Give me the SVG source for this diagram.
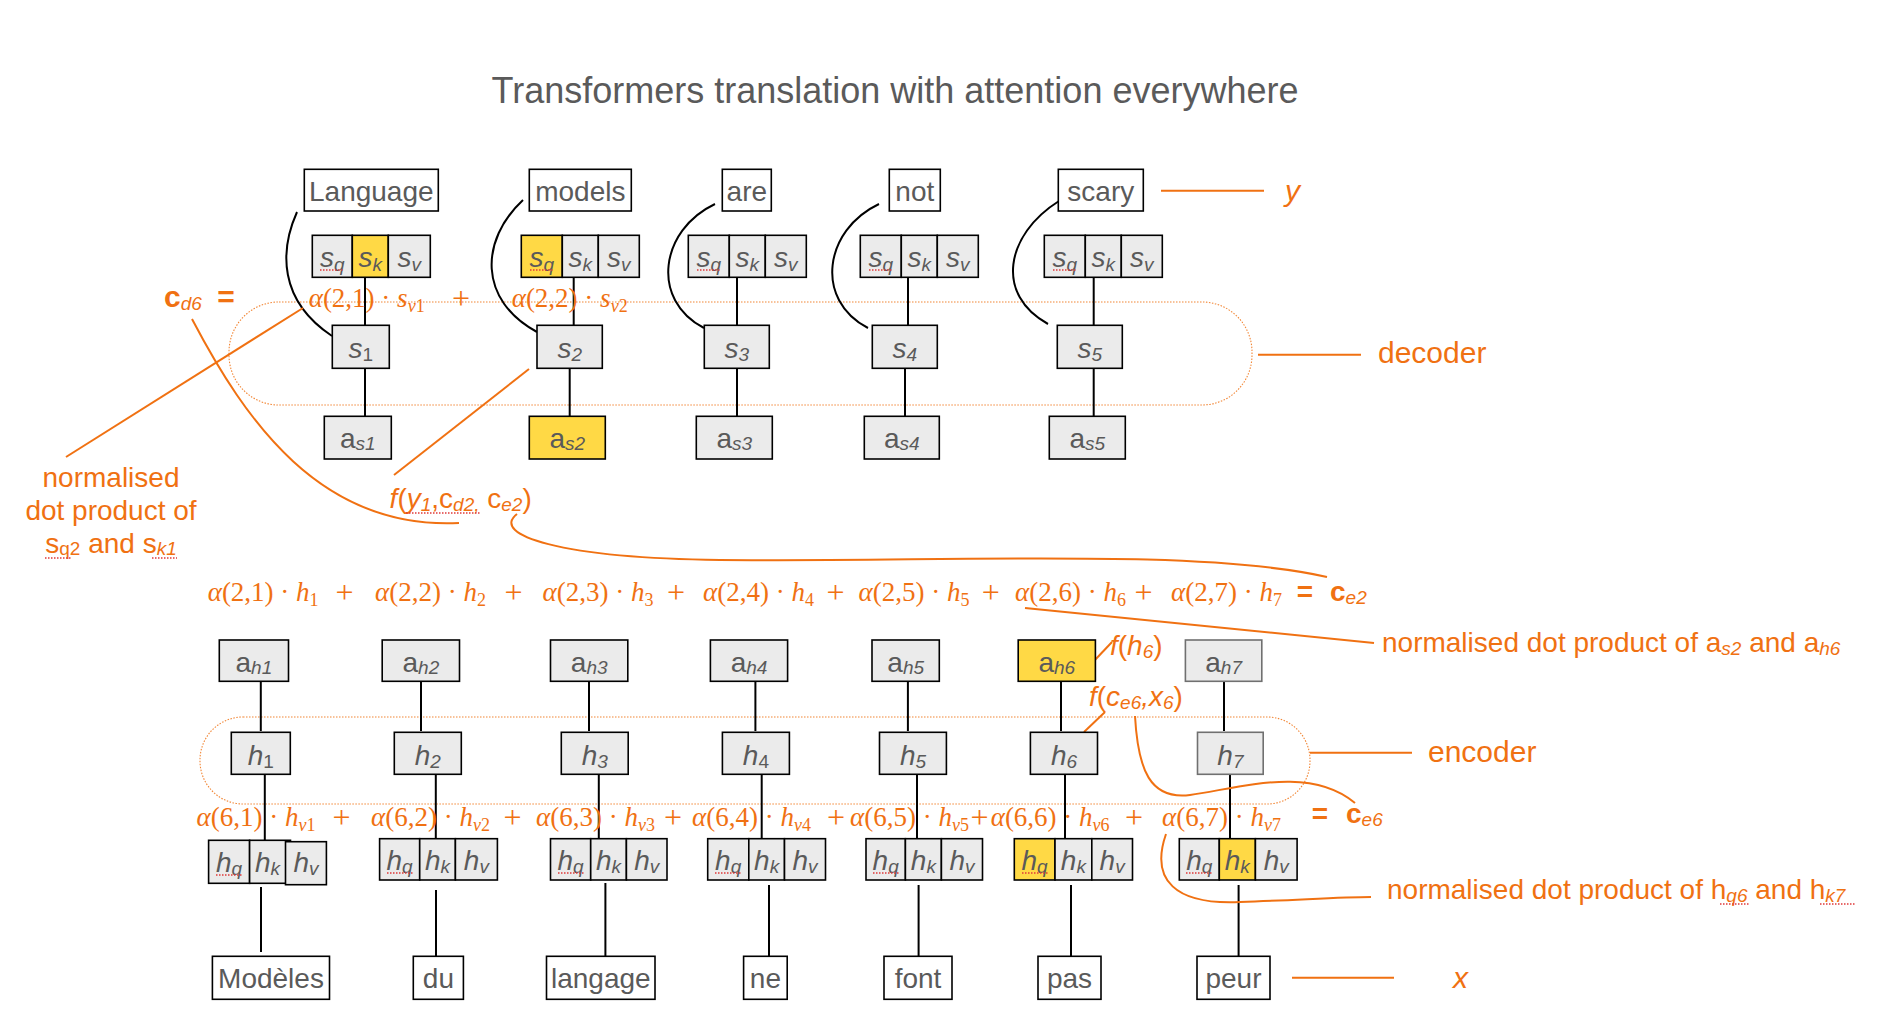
<svg xmlns="http://www.w3.org/2000/svg" width="1902" height="1036" viewBox="0 0 1902 1036">
<style>
.bx{fill:#EBEBEB;stroke:#000;stroke-width:1.6}
.yb{fill:#FFD945;stroke:#000;stroke-width:1.6}
.gb{fill:#EBEBEB;stroke:#707070;stroke-width:1.6}
.wb{fill:#fff;stroke:#000;stroke-width:1.6}
.nt{font-family:"Liberation Sans",Arial,sans-serif;font-size:28px;fill:#5a5a5a;text-anchor:middle}
.i{font-style:italic}
.sb{font-size:19px}
.nw{font-weight:normal}
.bl{stroke:#000;stroke-width:2;fill:none}
.ol{stroke:#F07112;stroke-width:2;fill:none}
.dt{stroke:#F07112;stroke-width:1.1;stroke-dasharray:1.5 1.5;fill:none;opacity:.85}
.sp{stroke:#e03a3a;stroke-width:1.3;stroke-dasharray:1.5 1.5;fill:none}
.lab{font-family:"Liberation Sans",Arial,sans-serif;font-size:28px;fill:#F07112}
.big{font-size:30px}
.bd{font-weight:bold}
.eq{font-family:"Liberation Serif","Times New Roman",serif;font-size:27px;fill:#F07112}
.pl{font-family:"Liberation Serif","Times New Roman",serif;font-size:32px;fill:#F07112;text-anchor:middle}
.es{font-size:18px}
.ttl{font-family:"Liberation Sans",Arial,sans-serif;font-size:36px;fill:#5a5a5a;text-anchor:middle}
</style>

<text class="ttl" x="895" y="103">Transformers translation with attention everywhere</text>

<!-- grouping outlines -->
<g id="decoder-outline"><rect class="dt" x="229" y="302" width="1023" height="103" rx="50" ry="50"/></g>
<g id="encoder-outline"><rect class="dt" x="200" y="717" width="1110" height="87" rx="43" ry="43"/></g>

<!-- connectors -->
<g id="connectors">
  <path class="bl" d="M297,212 C280,250 278,300 332,336"/>
  <path class="bl" d="M523,200 C480,240 478,300 537,332"/>
  <path class="bl" d="M715,204 C660,230 650,300 704,328"/>
  <path class="bl" d="M879,204 C824,230 814,300 868,328"/>
  <path class="bl" d="M1059,201 C1005,235 995,295 1048,324"/>
  <line class="bl" x1="365" y1="277" x2="365" y2="325"/>
  <line class="bl" x1="573.7" y1="277" x2="573.7" y2="325"/>
  <line class="bl" x1="737" y1="277" x2="737" y2="325"/>
  <line class="bl" x1="908" y1="277" x2="908" y2="325"/>
  <line class="bl" x1="1093.7" y1="277" x2="1093.7" y2="325"/>
  <line class="bl" x1="365" y1="369" x2="365" y2="416"/>
  <line class="bl" x1="569.7" y1="369" x2="569.7" y2="416"/>
  <line class="bl" x1="737" y1="369" x2="737" y2="416"/>
  <line class="bl" x1="905" y1="369" x2="905" y2="416"/>
  <line class="bl" x1="1093.7" y1="369" x2="1093.7" y2="416"/>
  <line class="bl" x1="260.8" y1="682" x2="260.8" y2="731"/>
  <line class="bl" x1="421" y1="682" x2="421" y2="731"/>
  <line class="bl" x1="589" y1="682" x2="589" y2="731"/>
  <line class="bl" x1="755.4" y1="682" x2="755.4" y2="731"/>
  <line class="bl" x1="907.9" y1="682" x2="907.9" y2="731"/>
  <line class="bl" x1="1061" y1="682" x2="1061" y2="731"/>
  <line class="bl" x1="1224" y1="682" x2="1224" y2="731"/>
  <line class="bl" x1="264.8" y1="773" x2="264.8" y2="840"/>
  <line class="bl" x1="435.8" y1="773" x2="435.8" y2="839"/>
  <line class="bl" x1="598.8" y1="773" x2="598.8" y2="839"/>
  <line class="bl" x1="761.7" y1="773" x2="761.7" y2="839"/>
  <line class="bl" x1="917" y1="773" x2="917" y2="839"/>
  <line class="bl" x1="1065" y1="773" x2="1065" y2="839"/>
  <line class="bl" x1="1230" y1="773" x2="1230" y2="839"/>
  <line class="bl" x1="261" y1="887" x2="261" y2="952"/>
  <line class="bl" x1="436" y1="890" x2="436" y2="956"/>
  <line class="bl" x1="605.4" y1="883" x2="605.4" y2="956"/>
  <line class="bl" x1="769" y1="885" x2="769" y2="956"/>
  <line class="bl" x1="918.6" y1="885" x2="918.6" y2="956"/>
  <line class="bl" x1="1071" y1="885" x2="1071" y2="956"/>
  <line class="bl" x1="1238.6" y1="885" x2="1238.6" y2="956"/>
  <line class="ol" x1="1161" y1="190.7" x2="1264" y2="190.7"/>
  <line class="ol" x1="1258" y1="354.7" x2="1361" y2="354.7"/>
  <line class="ol" x1="1310" y1="752.7" x2="1412" y2="752.7"/>
  <line class="ol" x1="1292" y1="977.7" x2="1394" y2="977.7"/>
  <line class="ol" x1="303" y1="308" x2="66" y2="457"/>
  <path class="ol" d="M192,319 C245,420 320,530 459,523"/>
  <line class="ol" x1="529" y1="369" x2="394" y2="475"/>
  <path class="ol" d="M517,514 C490,535 560,558 720,560 C950,562 1200,548 1327,577"/>
  <line class="ol" x1="1025" y1="608" x2="1374" y2="643"/>
  <line class="ol" x1="1094" y1="661" x2="1112" y2="642"/>
  <line class="ol" x1="1105" y1="712" x2="1084" y2="732"/>
  <path class="ol" d="M1135,716 C1138,770 1150,800 1190,795 C1240,788 1310,765 1355,803"/>
  <path class="ol" d="M1166,834 C1150,880 1175,905 1240,902 C1300,900 1340,897 1371,897"/>
</g>

<!-- top words (y) -->
<g id="y-Language"><rect class="wb" x="304.3" y="169.3" width="134" height="41.7"/><text class="nt" x="371.3" y="201">Language</text></g>
<g id="y-models"><rect class="wb" x="529.3" y="169.3" width="102" height="41.7"/><text class="nt" x="580.3" y="201">models</text></g>
<g id="y-are"><rect class="wb" x="722.3" y="169.3" width="49" height="41.7"/><text class="nt" x="746.8" y="201">are</text></g>
<g id="y-not"><rect class="wb" x="889.3" y="169.3" width="51" height="41.7"/><text class="nt" x="914.8" y="201">not</text></g>
<g id="y-scary"><rect class="wb" x="1058.3" y="169.3" width="85" height="41.7"/><text class="nt" x="1100.8" y="201">scary</text></g>

<!-- s tuples -->
<g id="stuple1">
  <rect class="bx" x="312.3" y="235.3" width="40" height="42"/><rect class="yb" x="352.3" y="235.3" width="36" height="42"/><rect class="bx" x="388.3" y="235.3" width="42" height="42"/>
  <text class="nt" x="332.3" y="267"><tspan class="i">s</tspan><tspan class="sb i" dy="4">q</tspan></text>
  <text class="nt" x="370.3" y="267"><tspan class="i">s</tspan><tspan class="sb i" dy="4">k</tspan></text>
  <text class="nt" x="409.3" y="267"><tspan class="i">s</tspan><tspan class="sb i" dy="4">v</tspan></text>
  <line class="sp" x1="320" y1="270" x2="344" y2="270"/>
</g>
<g id="stuple2">
  <rect class="yb" x="521.3" y="235.3" width="41" height="42"/><rect class="bx" x="562.3" y="235.3" width="36" height="42"/><rect class="bx" x="598.3" y="235.3" width="41" height="42"/>
  <text class="nt" x="541.8" y="267"><tspan class="i">s</tspan><tspan class="sb i" dy="4">q</tspan></text>
  <text class="nt" x="580.3" y="267"><tspan class="i">s</tspan><tspan class="sb i" dy="4">k</tspan></text>
  <text class="nt" x="618.8" y="267"><tspan class="i">s</tspan><tspan class="sb i" dy="4">v</tspan></text>
  <line class="sp" x1="530" y1="270" x2="554" y2="270"/>
</g>
<g id="stuple3">
  <rect class="bx" x="688.3" y="235.3" width="41" height="42"/><rect class="bx" x="729.3" y="235.3" width="36" height="42"/><rect class="bx" x="765.3" y="235.3" width="41" height="42"/>
  <text class="nt" x="708.8" y="267"><tspan class="i">s</tspan><tspan class="sb i" dy="4">q</tspan></text>
  <text class="nt" x="747.3" y="267"><tspan class="i">s</tspan><tspan class="sb i" dy="4">k</tspan></text>
  <text class="nt" x="785.8" y="267"><tspan class="i">s</tspan><tspan class="sb i" dy="4">v</tspan></text>
  <line class="sp" x1="697" y1="270" x2="721" y2="270"/>
</g>
<g id="stuple4">
  <rect class="bx" x="860.3" y="235.3" width="41" height="42"/><rect class="bx" x="901.3" y="235.3" width="36" height="42"/><rect class="bx" x="937.3" y="235.3" width="41" height="42"/>
  <text class="nt" x="880.8" y="267"><tspan class="i">s</tspan><tspan class="sb i" dy="4">q</tspan></text>
  <text class="nt" x="919.3" y="267"><tspan class="i">s</tspan><tspan class="sb i" dy="4">k</tspan></text>
  <text class="nt" x="957.8" y="267"><tspan class="i">s</tspan><tspan class="sb i" dy="4">v</tspan></text>
  <line class="sp" x1="869" y1="270" x2="893" y2="270"/>
</g>
<g id="stuple5">
  <rect class="bx" x="1044.3" y="235.3" width="41" height="42"/><rect class="bx" x="1085.3" y="235.3" width="36" height="42"/><rect class="bx" x="1121.3" y="235.3" width="41" height="42"/>
  <text class="nt" x="1064.8" y="267"><tspan class="i">s</tspan><tspan class="sb i" dy="4">q</tspan></text>
  <text class="nt" x="1103.3" y="267"><tspan class="i">s</tspan><tspan class="sb i" dy="4">k</tspan></text>
  <text class="nt" x="1141.8" y="267"><tspan class="i">s</tspan><tspan class="sb i" dy="4">v</tspan></text>
  <line class="sp" x1="1053" y1="270" x2="1077" y2="270"/>
</g>

<!-- s nodes -->
<g id="s1"><rect class="bx" x="332.3" y="325.3" width="57" height="43"/><text class="nt" x="360.8" y="358"><tspan class="i">s</tspan><tspan class="sb" dy="3">1</tspan></text></g>
<g id="s2"><rect class="bx" x="537" y="325.3" width="65.3" height="43"/><text class="nt" x="569.7" y="358"><tspan class="i">s</tspan><tspan class="sb i" dy="3">2</tspan></text></g>
<g id="s3"><rect class="bx" x="704.3" y="325.3" width="65" height="43"/><text class="nt" x="736.8" y="358"><tspan class="i">s</tspan><tspan class="sb i" dy="3">3</tspan></text></g>
<g id="s4"><rect class="bx" x="872.3" y="325.3" width="65" height="43"/><text class="nt" x="904.8" y="358"><tspan class="i">s</tspan><tspan class="sb i" dy="3">4</tspan></text></g>
<g id="s5"><rect class="bx" x="1057.3" y="325.3" width="65" height="43"/><text class="nt" x="1089.8" y="358"><tspan class="i">s</tspan><tspan class="sb i" dy="3">5</tspan></text></g>

<!-- a_s nodes -->
<g id="as1"><rect class="bx" x="324.3" y="416.3" width="67" height="42.7"/><text class="nt" x="357.8" y="448">a<tspan class="sb i" dy="2">s1</tspan></text></g>
<g id="as2"><rect class="yb" x="529.3" y="416.3" width="76" height="42.7"/><text class="nt" x="567.3" y="448">a<tspan class="sb i" dy="2">s2</tspan></text></g>
<g id="as3"><rect class="bx" x="696.3" y="416.3" width="76" height="42.7"/><text class="nt" x="734.3" y="448">a<tspan class="sb i" dy="2">s3</tspan></text></g>
<g id="as4"><rect class="bx" x="864.3" y="416.3" width="75" height="42.7"/><text class="nt" x="901.8" y="448">a<tspan class="sb i" dy="2">s4</tspan></text></g>
<g id="as5"><rect class="bx" x="1049.3" y="416.3" width="76" height="42.7"/><text class="nt" x="1087.3" y="448">a<tspan class="sb i" dy="2">s5</tspan></text></g>

<!-- a_h nodes -->
<g id="ah1"><rect class="bx" x="219.3" y="640" width="69.2" height="41.3"/><text class="nt" x="253.9" y="672">a<tspan class="sb i" dy="2">h1</tspan></text></g>
<g id="ah2"><rect class="bx" x="382.2" y="640" width="77.3" height="41.3"/><text class="nt" x="420.9" y="672">a<tspan class="sb i" dy="2">h2</tspan></text></g>
<g id="ah3"><rect class="bx" x="550.5" y="640" width="77.3" height="41.3"/><text class="nt" x="589.2" y="672">a<tspan class="sb i" dy="2">h3</tspan></text></g>
<g id="ah4"><rect class="bx" x="710.4" y="640" width="77.2" height="41.3"/><text class="nt" x="749" y="672">a<tspan class="sb i" dy="2">h4</tspan></text></g>
<g id="ah5"><rect class="bx" x="872" y="640" width="67.3" height="41.3"/><text class="nt" x="905.7" y="672">a<tspan class="sb i" dy="2">h5</tspan></text></g>
<g id="ah6"><rect class="yb" x="1018.2" y="640" width="77.2" height="41.3"/><text class="nt" x="1056.8" y="672">a<tspan class="sb i" dy="2">h6</tspan></text></g>
<g id="ah7"><rect class="gb" x="1185.4" y="640" width="76.4" height="41.3"/><text class="nt" x="1223.6" y="672">a<tspan class="sb i" dy="2">h7</tspan></text></g>

<!-- h nodes -->
<g id="h1"><rect class="bx" x="231.3" y="732.3" width="59" height="42"/><text class="nt" x="260.8" y="765"><tspan class="i">h</tspan><tspan class="sb" dy="3">1</tspan></text></g>
<g id="h2"><rect class="bx" x="394.3" y="732.3" width="67" height="42"/><text class="nt" x="427.8" y="765"><tspan class="i">h</tspan><tspan class="sb i" dy="3">2</tspan></text></g>
<g id="h3"><rect class="bx" x="561.3" y="732.3" width="66.9" height="42"/><text class="nt" x="594.8" y="765"><tspan class="i">h</tspan><tspan class="sb i" dy="3">3</tspan></text></g>
<g id="h4"><rect class="bx" x="722.4" y="732.3" width="67" height="42"/><text class="nt" x="755.9" y="765"><tspan class="i">h</tspan><tspan class="sb" dy="3">4</tspan></text></g>
<g id="h5"><rect class="bx" x="879.5" y="732.3" width="66.9" height="42"/><text class="nt" x="913" y="765"><tspan class="i">h</tspan><tspan class="sb i" dy="3">5</tspan></text></g>
<g id="h6"><rect class="bx" x="1030.4" y="732.3" width="67.1" height="42"/><text class="nt" x="1064" y="765"><tspan class="i">h</tspan><tspan class="sb i" dy="3">6</tspan></text></g>
<g id="h7"><rect class="gb" x="1197.5" y="732.3" width="65.7" height="42"/><text class="nt" x="1230.4" y="765"><tspan class="i">h</tspan><tspan class="sb i" dy="3">7</tspan></text></g>

<!-- h tuples -->
<g id="htuple1">
  <rect class="bx" x="208.6" y="840.3" width="41" height="43"/><rect class="bx" x="249.6" y="840.3" width="40.9" height="43"/><rect class="bx" x="285.5" y="841.7" width="40.9" height="43"/>
  <text class="nt" x="229.1" y="871.5"><tspan class="i">h</tspan><tspan class="sb i" dy="3">q</tspan></text>
  <text class="nt" x="267.5" y="871.5"><tspan class="i">h</tspan><tspan class="sb i" dy="3">k</tspan></text>
  <text class="nt" x="306" y="871.5"><tspan class="i">h</tspan><tspan class="sb i" dy="3">v</tspan></text>
  <line class="sp" x1="216" y1="875" x2="242" y2="875"/>
</g>
<g id="htuple2">
  <rect class="bx" x="379.6" y="838.7" width="40.1" height="41.3"/><rect class="bx" x="419.7" y="838.7" width="35.7" height="41.3"/><rect class="bx" x="455.4" y="838.7" width="42" height="41.3"/>
  <text class="nt" x="399.6" y="870"><tspan class="i">h</tspan><tspan class="sb i" dy="3">q</tspan></text>
  <text class="nt" x="437.5" y="870"><tspan class="i">h</tspan><tspan class="sb i" dy="3">k</tspan></text>
  <text class="nt" x="476.4" y="870"><tspan class="i">h</tspan><tspan class="sb i" dy="3">v</tspan></text>
  <line class="sp" x1="387" y1="873" x2="413" y2="873"/>
</g>
<g id="htuple3">
  <rect class="bx" x="550.5" y="838.7" width="40.2" height="41.3"/><rect class="bx" x="590.7" y="838.7" width="35.7" height="41.3"/><rect class="bx" x="626.4" y="838.7" width="40.6" height="41.3"/>
  <text class="nt" x="570.6" y="870"><tspan class="i">h</tspan><tspan class="sb i" dy="3">q</tspan></text>
  <text class="nt" x="608.5" y="870"><tspan class="i">h</tspan><tspan class="sb i" dy="3">k</tspan></text>
  <text class="nt" x="646.7" y="870"><tspan class="i">h</tspan><tspan class="sb i" dy="3">v</tspan></text>
  <line class="sp" x1="558" y1="873" x2="584" y2="873"/>
</g>
<g id="htuple4">
  <rect class="bx" x="707.7" y="838.7" width="41.1" height="41.3"/><rect class="bx" x="748.8" y="838.7" width="35.7" height="41.3"/><rect class="bx" x="784.5" y="838.7" width="41" height="41.3"/>
  <text class="nt" x="728.2" y="870"><tspan class="i">h</tspan><tspan class="sb i" dy="3">q</tspan></text>
  <text class="nt" x="766.6" y="870"><tspan class="i">h</tspan><tspan class="sb i" dy="3">k</tspan></text>
  <text class="nt" x="805" y="870"><tspan class="i">h</tspan><tspan class="sb i" dy="3">v</tspan></text>
  <line class="sp" x1="715" y1="873" x2="741" y2="873"/>
</g>
<g id="htuple5">
  <rect class="bx" x="866" y="838.7" width="39.4" height="41.3"/><rect class="bx" x="905.4" y="838.7" width="36" height="41.3"/><rect class="bx" x="941.4" y="838.7" width="41.1" height="41.3"/>
  <text class="nt" x="885.7" y="870"><tspan class="i">h</tspan><tspan class="sb i" dy="3">q</tspan></text>
  <text class="nt" x="923.4" y="870"><tspan class="i">h</tspan><tspan class="sb i" dy="3">k</tspan></text>
  <text class="nt" x="962" y="870"><tspan class="i">h</tspan><tspan class="sb i" dy="3">v</tspan></text>
  <line class="sp" x1="873" y1="873" x2="899" y2="873"/>
</g>
<g id="htuple6">
  <rect class="yb" x="1014.3" y="838.7" width="40.7" height="41.3"/><rect class="bx" x="1055" y="838.7" width="36.8" height="41.3"/><rect class="bx" x="1091.8" y="838.7" width="40.7" height="41.3"/>
  <text class="nt" x="1034.6" y="870"><tspan class="i">h</tspan><tspan class="sb i" dy="3">q</tspan></text>
  <text class="nt" x="1073.4" y="870"><tspan class="i">h</tspan><tspan class="sb i" dy="3">k</tspan></text>
  <text class="nt" x="1112.1" y="870"><tspan class="i">h</tspan><tspan class="sb i" dy="3">v</tspan></text>
  <line class="sp" x1="1022" y1="873" x2="1048" y2="873"/>
</g>
<g id="htuple7">
  <rect class="bx" x="1179.3" y="838.7" width="40" height="41.3"/><rect class="yb" x="1219.3" y="838.7" width="36.1" height="41.3"/><rect class="bx" x="1255.4" y="838.7" width="41.7" height="41.3"/>
  <text class="nt" x="1199.3" y="870"><tspan class="i">h</tspan><tspan class="sb i" dy="3">q</tspan></text>
  <text class="nt" x="1237.3" y="870"><tspan class="i">h</tspan><tspan class="sb i" dy="3">k</tspan></text>
  <text class="nt" x="1276.2" y="870"><tspan class="i">h</tspan><tspan class="sb i" dy="3">v</tspan></text>
  <line class="sp" x1="1186" y1="873" x2="1212" y2="873"/>
</g>

<!-- bottom words (x) -->
<g id="x-Modeles"><rect class="wb" x="212.4" y="956.3" width="117.1" height="43"/><text class="nt" x="271" y="988">Modèles</text></g>
<g id="x-du"><rect class="wb" x="413.3" y="956.3" width="50.1" height="43"/><text class="nt" x="438.4" y="988">du</text></g>
<g id="x-langage"><rect class="wb" x="546.5" y="956.3" width="108.5" height="43"/><text class="nt" x="600.8" y="988">langage</text></g>
<g id="x-ne"><rect class="wb" x="743.6" y="956.3" width="43.6" height="43"/><text class="nt" x="765.4" y="988">ne</text></g>
<g id="x-font"><rect class="wb" x="884" y="956.3" width="68" height="43"/><text class="nt" x="918" y="988">font</text></g>
<g id="x-pas"><rect class="wb" x="1038" y="956.3" width="63" height="43"/><text class="nt" x="1069.5" y="988">pas</text></g>
<g id="x-peur"><rect class="wb" x="1197" y="956.3" width="73" height="43"/><text class="nt" x="1233.5" y="988">peur</text></g>

<!-- orange labels -->
<g id="labels">
  <text class="lab big i" x="1285" y="201">y</text>
  <text class="lab big" x="1378" y="363">decoder</text>
  <text class="lab big" x="1428" y="762">encoder</text>
  <text class="lab big i" x="1453" y="988">x</text>
  <text class="lab" text-anchor="middle" x="111" y="487">normalised</text>
  <text class="lab" text-anchor="middle" x="111" y="520">dot product of</text>
  <text class="lab" text-anchor="middle" x="111" y="553">s<tspan class="sb" dy="2">q2</tspan><tspan dy="-2"> and s</tspan><tspan class="sb i" dy="2">k1</tspan></text>
  <line class="sp" x1="45" y1="558" x2="72" y2="558"/>
  <line class="sp" x1="152" y1="558" x2="177" y2="558"/>
  <text class="lab" x="389.6" y="508"><tspan class="i">f</tspan>(<tspan class="i">y</tspan><tspan class="sb i" dy="3">1</tspan><tspan dy="-3">,c</tspan><tspan class="sb i" dy="3">d2,</tspan><tspan dy="-3"> c</tspan><tspan class="sb i" dy="3">e2</tspan><tspan dy="-3">)</tspan></text>
  <line class="sp" x1="406" y1="513" x2="480" y2="513"/>
  <text class="lab" x="1382" y="652">normalised dot product of a<tspan class="sb i" dy="3">s2</tspan><tspan dy="-3"> and a</tspan><tspan class="sb i" dy="3">h6</tspan></text>
  <text class="lab" x="1387" y="899">normalised dot product of h<tspan class="sb i" dy="3">q6</tspan><tspan dy="-3"> and h</tspan><tspan class="sb i" dy="3">k7</tspan></text>
  <line class="sp" x1="1720" y1="904" x2="1750" y2="904"/>
  <line class="sp" x1="1820" y1="904" x2="1855" y2="904"/>
  <text class="lab" x="1110" y="655"><tspan class="i">f</tspan>(<tspan class="i">h</tspan><tspan class="sb i" dy="3">6</tspan><tspan dy="-3">)</tspan></text>
  <text class="lab" x="1089" y="706"><tspan class="i">f</tspan>(<tspan class="i">c</tspan><tspan class="sb i" dy="3">e6</tspan><tspan dy="-3" class="i">,x</tspan><tspan class="sb i" dy="3">6</tspan><tspan dy="-3">)</tspan></text>
  <!-- c_d6 equation -->
  <text class="lab big" x="164" y="307"><tspan class="bd">c</tspan><tspan class="sb i" dy="3">d6</tspan></text>
  <text class="lab big bd" text-anchor="middle" x="226" y="307">=</text>
  <text class="eq" x="308.7" y="307"><tspan class="i">α</tspan>(2,1) · <tspan class="i">s</tspan><tspan class="es" dy="5"><tspan class="i">v</tspan>1</tspan></text>
  <text class="pl" x="461" y="309">+</text>
  <text class="eq" x="511.7" y="307"><tspan class="i">α</tspan>(2,2) · <tspan class="i">s</tspan><tspan class="es" dy="5"><tspan class="i">v</tspan>2</tspan></text>
  <!-- c_e2 equation -->
  <text class="eq" x="207.7" y="601"><tspan class="i">α</tspan>(2,1) · <tspan class="i">h</tspan><tspan class="es" dy="5">1</tspan></text>
  <text class="pl" x="344.5" y="603">+</text>
  <text class="eq" x="375" y="601"><tspan class="i">α</tspan>(2,2) · <tspan class="i">h</tspan><tspan class="es" dy="5">2</tspan></text>
  <text class="pl" x="513.5" y="603">+</text>
  <text class="eq" x="542.5" y="601"><tspan class="i">α</tspan>(2,3) · <tspan class="i">h</tspan><tspan class="es" dy="5">3</tspan></text>
  <text class="pl" x="676" y="603">+</text>
  <text class="eq" x="703" y="601"><tspan class="i">α</tspan>(2,4) · <tspan class="i">h</tspan><tspan class="es" dy="5">4</tspan></text>
  <text class="pl" x="835.5" y="603">+</text>
  <text class="eq" x="858.6" y="601"><tspan class="i">α</tspan>(2,5) · <tspan class="i">h</tspan><tspan class="es" dy="5">5</tspan></text>
  <text class="pl" x="990.8" y="603">+</text>
  <text class="eq" x="1015" y="601"><tspan class="i">α</tspan>(2,6) · <tspan class="i">h</tspan><tspan class="es" dy="5">6</tspan></text>
  <text class="pl" x="1143.5" y="603">+</text>
  <text class="eq" x="1171" y="601"><tspan class="i">α</tspan>(2,7) · <tspan class="i">h</tspan><tspan class="es" dy="5">7</tspan></text>
  <text class="lab bd" text-anchor="middle" x="1305" y="601">=</text>
  <text class="lab" x="1330" y="601"><tspan class="bd">c</tspan><tspan class="sb i" dy="3">e2</tspan></text>
  <!-- c_e6 equation -->
  <text class="eq" x="196.5" y="826"><tspan class="i">α</tspan>(6,1) · <tspan class="i">h</tspan><tspan class="es" dy="5"><tspan class="i">v</tspan>1</tspan></text>
  <text class="pl" x="341.5" y="828">+</text>
  <text class="eq" x="371" y="826"><tspan class="i">α</tspan>(6,2) · <tspan class="i">h</tspan><tspan class="es" dy="5"><tspan class="i">v</tspan>2</tspan></text>
  <text class="pl" x="512.5" y="828">+</text>
  <text class="eq" x="536" y="826"><tspan class="i">α</tspan>(6,3) · <tspan class="i">h</tspan><tspan class="es" dy="5"><tspan class="i">v</tspan>3</tspan></text>
  <text class="pl" x="673" y="828">+</text>
  <text class="eq" x="692" y="826"><tspan class="i">α</tspan>(6,4) · <tspan class="i">h</tspan><tspan class="es" dy="5"><tspan class="i">v</tspan>4</tspan></text>
  <text class="pl" x="836" y="828">+</text>
  <text class="eq" x="850" y="826"><tspan class="i">α</tspan>(6,5) · <tspan class="i">h</tspan><tspan class="es" dy="5"><tspan class="i">v</tspan>5</tspan></text>
  <text class="pl" x="979.5" y="828">+</text>
  <text class="eq" x="990.7" y="826"><tspan class="i">α</tspan>(6,6) · <tspan class="i">h</tspan><tspan class="es" dy="5"><tspan class="i">v</tspan>6</tspan></text>
  <text class="pl" x="1134" y="828">+</text>
  <text class="eq" x="1162" y="826"><tspan class="i">α</tspan>(6,7) · <tspan class="i">h</tspan><tspan class="es" dy="5"><tspan class="i">v</tspan>7</tspan></text>
  <text class="lab bd" text-anchor="middle" x="1320" y="823">=</text>
  <text class="lab" x="1346" y="823"><tspan class="bd">c</tspan><tspan class="sb i" dy="3">e6</tspan></text>
</g>
</svg>
